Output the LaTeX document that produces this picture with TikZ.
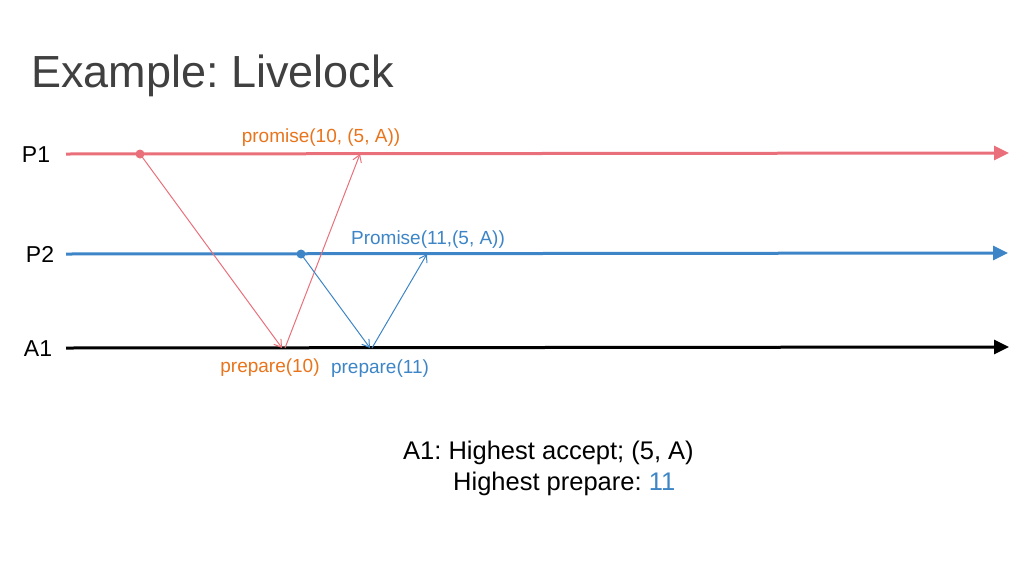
\documentclass[tikz,border=0pt]{standalone}
\usepackage{fontspec}
\setmainfont{Liberation Sans}
\usetikzlibrary{arrows.meta}
\definecolor{pred}{HTML}{E9707B}
\definecolor{pblue}{HTML}{3D85C6}
\definecolor{porange}{HTML}{E8741C}
\definecolor{ptitle}{HTML}{404040}
\frenchspacing
\tikzset{
  timeline/.style={line width=3pt,-{Triangle[length=15pt,width=14pt]}},
  msg/.style={line width=1pt,-{Straight Barb[length=7pt,width=9pt]}},
  lbl/.style={inner sep=0pt,font=\fontsize{23}{26}\selectfont},
  msglbl/.style={inner sep=0pt,font=\fontsize{19}{22}\selectfont},
  note/.style={anchor=base west,inner sep=0pt,font=\fontsize{25.5}{29}\selectfont},
  dot/.style={circle,inner sep=0pt,minimum size=9pt}
}
\begin{document}
\begin{tikzpicture}[x=1pt,y=-1pt]
\useasboundingbox (0,0) rectangle (1024,576);
\node[anchor=base west,inner sep=0pt,text=ptitle,font=\fontsize{45}{50}\selectfont] (title) at (31,87) {Example: Livelock};

\node[lbl] (lp1) at (36,155) {P1};
\node[lbl] (lp2) at (40,254) {P2};
\node[lbl] (la1) at (38,349) {A1};

\coordinate (p1s) at (66,154);
\coordinate (p1e) at (1009,153);
\coordinate (p2s) at (66,254);
\coordinate (p2e) at (1008,253);
\coordinate (a1s) at (66,348);
\coordinate (a1e) at (1009,347);

\draw[timeline,pred] (p1s) -- (p1e);
\draw[timeline,pblue] (p2s) -- (p2e);
\draw[timeline,black] (a1s) -- (a1e);

\node[dot,fill=pred] (d1) at (140,154) {};
\node[dot,fill=pblue] (d2) at (301,254) {};

\coordinate (r1) at (282,348);
\coordinate (r2) at (285,348);
\coordinate (r3) at (360,154);
\coordinate (b1) at (370,348);
\coordinate (b2) at (372,348);
\coordinate (b3) at (427,254);

\draw[msg,pred] (d1.center) -- (r1);
\draw[msg,pred] (r2) -- (r3);
\draw[msg,pblue] (d2.center) -- (b1);
\draw[msg,pblue] (b2) -- (b3);

\node[msglbl,text=porange] (m1) at (321,138) {promise(10, (5, A))};
\node[msglbl,text=pblue] (m2) at (428,240) {Promise(11,(5, A))};
\node[msglbl,text=porange] (m3) at (270,368) {prepare(10)};
\node[msglbl,text=pblue] (m4) at (380,369) {prepare(11)};

\node[note] (s1) at (403,459) {A1: Highest accept; (5, A)};
\node[note] (s2) at (453,490) {Highest prepare: \textcolor{pblue}{11}};
\end{tikzpicture}
\end{document}
